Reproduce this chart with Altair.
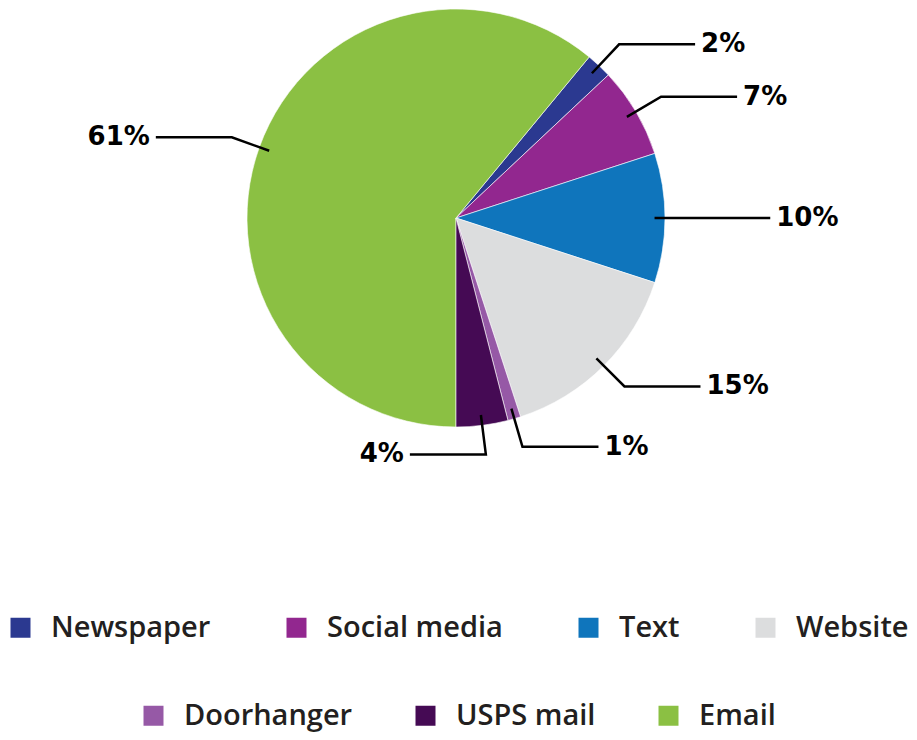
import altair as alt
import pandas as pd
import numpy as np

# ---- data ----
categories = ["Email", "Newspaper", "Social media", "Text", "Website", "Doorhanger", "USPS mail"]
shares = [61, 2, 7, 10, 15, 1, 4]
pct_labels = ["61%", "2%", "7%", "10%", "15%", "1%", "4%"]
legend_row1 = ["Newspaper", "Social media", "Text", "Website"]
legend_row2 = ["Doorhanger", "USPS mail", "Email"]
colors_row1 = ["#2B3990", "#92278F", "#0F75BC", "#DCDDDE"]
colors_row2 = ["#9659A6", "#450A54", "#8BC043"]

# ---- layout / style ----
W, H = 901, 724
R = 209
CY = 210           # pie centre, px from top of the plot area
CX = 448           # pie centre, px from left
R_IN, R_OUT = 0.95 * R, 1.14 * R
HLEN, TXT_GAP = 76, 6

total = sum(shares)
frac = np.array(shares, dtype=float) / total
start = np.pi + 2 * np.pi * np.concatenate([[0.0], np.cumsum(frac)[:-1]])
end = start + 2 * np.pi * frac
mid = (start + end) / 2

slices = pd.DataFrame({
    "category": categories,
    "share": shares,
    "t0": start,
    "t1": end,
    "cx": 0.0,
    "cy": 0.0,
})

rows, txt = [], []
for cat, lab, a in zip(categories, pct_labels, mid):
    sx, sy = np.sin(a), np.cos(a)
    side = 1 if sx > 0.2 else -1
    p0 = (R_IN * sx, R_IN * sy)
    p1 = (R_OUT * sx, R_OUT * sy)
    p2 = (p1[0] + side * HLEN, p1[1])
    for i, p in enumerate([p0, p1, p2]):
        rows.append({"category": cat, "idx": i, "x": p[0], "y": p[1]})
    txt.append({"category": cat, "label": lab, "x": p2[0] + side * TXT_GAP, "y": p2[1],
                "side": "right" if side > 0 else "left"})
leaders = pd.DataFrame(rows)
texts = pd.DataFrame(txt)

xs = alt.Scale(domain=[-CX, W - CX], zero=False, nice=False)
ys = alt.Scale(domain=[CY - H, CY], zero=False, nice=False)

legend_common = dict(
    orient="none", direction="horizontal", title=None,
    symbolType="square", symbolSize=400, symbolStrokeWidth=0,
    labelFont="Open Sans", labelFontSize=29, labelFontWeight=600,
    labelColor="#231F20", labelOffset=16, labelLimit=0,
)

base = alt.Chart(slices)
arc_enc = dict(
    x=alt.X("cx:Q", scale=xs, axis=None),
    y=alt.Y("cy:Q", scale=ys, axis=None),
    theta=alt.Theta("t0:Q", scale=None),
    theta2="t1:Q",
)
arcA = base.transform_filter(
    alt.FieldOneOfPredicate(field="category", oneOf=legend_row1)
).mark_arc(radius=R, stroke="white", strokeWidth=0.6).encode(
    color=alt.Color("category:N", scale=alt.Scale(domain=legend_row1, range=colors_row1),
                    legend=alt.Legend(columns=4, legendX=-2, legendY=605, columnPadding=71,
                                      **legend_common)),
    **arc_enc,
)
arcB = base.transform_filter(
    alt.FieldOneOfPredicate(field="category", oneOf=legend_row2)
).mark_arc(radius=R, stroke="white", strokeWidth=0.6).encode(
    color=alt.Color("category:N", scale=alt.Scale(domain=legend_row2, range=colors_row2),
                    legend=alt.Legend(columns=3, legendX=131, legendY=693, columnPadding=58,
                                      **legend_common)),
    **arc_enc,
)

lines = alt.Chart(leaders).mark_line(color="black", strokeWidth=2.5, strokeJoin="miter").encode(
    x=alt.X("x:Q", scale=xs, axis=None),
    y=alt.Y("y:Q", scale=ys, axis=None),
    detail="category:N",
    order="idx:Q",
)

text_style = dict(font="DejaVu Sans", fontSize=26, fontWeight="bold", color="black", baseline="middle")
txt_right = alt.Chart(texts).transform_filter(alt.datum.side == "right").mark_text(
    align="left", **text_style
).encode(x=alt.X("x:Q", scale=xs, axis=None), y=alt.Y("y:Q", scale=ys, axis=None), text="label:N")
txt_left = alt.Chart(texts).transform_filter(alt.datum.side == "left").mark_text(
    align="right", **text_style
).encode(x=alt.X("x:Q", scale=xs, axis=None), y=alt.Y("y:Q", scale=ys, axis=None), text="label:N")

chart = alt.layer(arcA, arcB, lines, txt_right, txt_left).resolve_scale(
    color="independent"
).properties(
    width=W, height=H, padding=0, autosize=alt.AutoSizeParams(type="none")
).configure_view(stroke=None)

chart.save("out.html", embed_options={"renderer": "svg", "actions": False})
